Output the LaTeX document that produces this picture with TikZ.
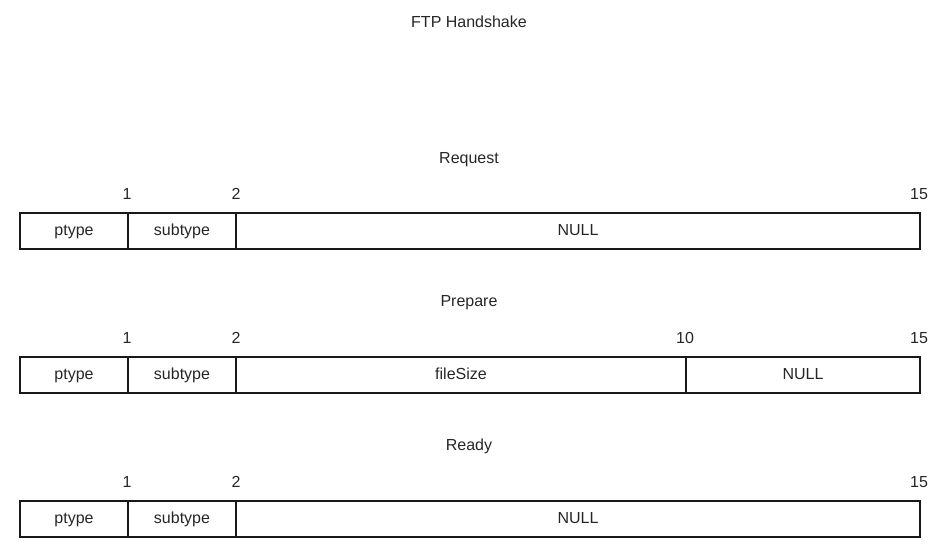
\documentclass[tikz,border=0pt]{standalone}
\usepackage{fontspec}
\setmainfont{Liberation Sans}
\begin{document}
\begin{tikzpicture}[x=1pt,y=-1pt,
  lbl/.style={inner sep=0pt,text height=11.5pt,text depth=3.4pt,font=\fontsize{16}{19}\selectfont,text=black!85},
  cell/.style={draw=black!90,line width=1.3pt,inner sep=0pt,text height=11.5pt,text depth=3.4pt,minimum height=36pt,font=\fontsize{16}{19}\selectfont,text=black!85}]
\useasboundingbox (0,0) rectangle (941,543);
\node[lbl] (title) at (469,23) {FTP Handshake};
% Request
\node[lbl] (t1) at (469,159) {Request};
\node[cell,minimum width=108pt] (r1a) at (74,231) {ptype};
\node[cell,minimum width=108pt] (r1b) at (182,231) {subtype};
\node[cell,minimum width=684pt] (r1c) at (578,231) {NULL};
\node[lbl] (n11) at (127,195) {1};
\node[lbl] (n12) at (236,195) {2};
\node[lbl] (n13) at (919,195) {15};
% Prepare
\node[lbl] (t2) at (469,302) {Prepare};
\node[cell,minimum width=108pt] (r2a) at (74,375) {ptype};
\node[cell,minimum width=108pt] (r2b) at (182,375) {subtype};
\node[cell,minimum width=450pt] (r2c) at (461,375) {fileSize};
\node[cell,minimum width=234pt] (r2d) at (803,375) {NULL};
\node[lbl] (n21) at (127,339) {1};
\node[lbl] (n22) at (236,339) {2};
\node[lbl] (n23) at (685,339) {10};
\node[lbl] (n24) at (919,339) {15};
% Ready
\node[lbl] (t3) at (469,446) {Ready};
\node[cell,minimum width=108pt] (r3a) at (74,519) {ptype};
\node[cell,minimum width=108pt] (r3b) at (182,519) {subtype};
\node[cell,minimum width=684pt] (r3c) at (578,519) {NULL};
\node[lbl] (n31) at (127,483) {1};
\node[lbl] (n32) at (236,483) {2};
\node[lbl] (n33) at (919,483) {15};
\end{tikzpicture}
\end{document}
